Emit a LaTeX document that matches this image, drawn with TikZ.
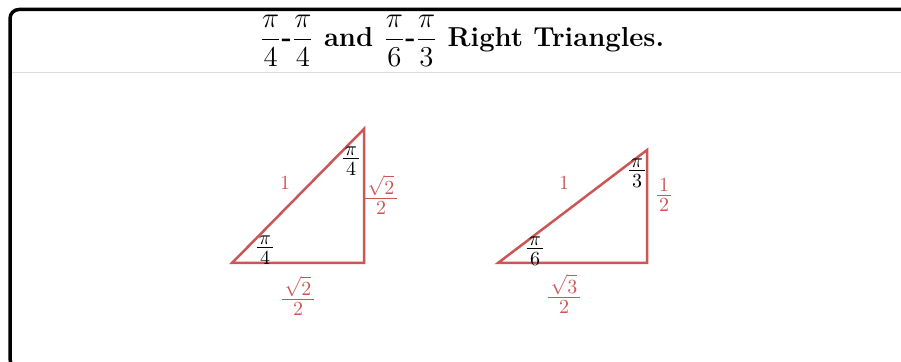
\documentclass[tikz,border=0pt]{standalone}
\usepackage{amsmath}
\usetikzlibrary{positioning}
\definecolor{trired}{RGB}{204,86,86}
\definecolor{rulegray}{RGB}{220,220,220}
\newcommand{\lblfrac}[2]{$\frac{\kern1.2pt\displaystyle #1\rule[-1.3pt]{0pt}{1pt}\kern1.2pt}{\displaystyle\rule{0pt}{7.7pt}#2}$}

\begin{document}
\begin{tikzpicture}[x=0.5pt, y=-0.5pt, every node/.style={inner sep=0pt, align=center}]
    \useasboundingbox (0,0) rectangle (901,362);
    \clip (0,0) rectangle (901,362);
    \draw[line width=1.75pt, rounded corners=4.5pt] (10,9.5) rectangle (930,368);
    \coordinate (ruleL) at (12,73);
    \coordinate (ruleR) at (901,73);
    \draw[rulegray, line width=0.5pt] (ruleL) -- (ruleR);
    \node[font=\fontsize{13.7}{16}\selectfont\bfseries, anchor=base] (title) at (462,47) {$\dfrac{\pi}{4}$-$\dfrac{\pi}{4}$ and $\dfrac{\pi}{6}$-$\dfrac{\pi}{3}$ Right Triangles.};

    % pi/4 - pi/4 triangle
    \coordinate (A1) at (232,263);
    \coordinate (B1) at (364,263);
    \coordinate (C1) at (364,129);
    \draw[trired, line width=1.25pt] (A1) -- (B1) -- (C1) -- cycle;
    \node[text=trired] (hyp1) at (285,183) {1};
    \node (angC1) at (351,161) {\lblfrac{\pi}{4}};
    \node[text=trired] (side1) at (381,195) {\lblfrac{\sqrt{2}}{2}};
    \node (angA1) at (265,250) {\lblfrac{\pi}{4}};
    \node[text=trired] (base1) at (298,296) {\lblfrac{\sqrt{2}}{2}};

    % pi/6 - pi/3 triangle
    \coordinate (A2) at (498,263);
    \coordinate (B2) at (647,263);
    \coordinate (C2) at (647,150);
    \draw[trired, line width=1.25pt] (A2) -- (B2) -- (C2) -- cycle;
    \node[text=trired] (hyp2) at (564,183) {1};
    \node (angC2) at (637,173) {\lblfrac{\pi}{3}};
    \node[text=trired] (side2) at (664,195) {\lblfrac{1}{2}};
    \node (angA2) at (535,251) {\lblfrac{\pi}{6}};
    \node[text=trired] (base2) at (564,294) {\lblfrac{\sqrt{3}}{2}};
\end{tikzpicture}
\end{document}
